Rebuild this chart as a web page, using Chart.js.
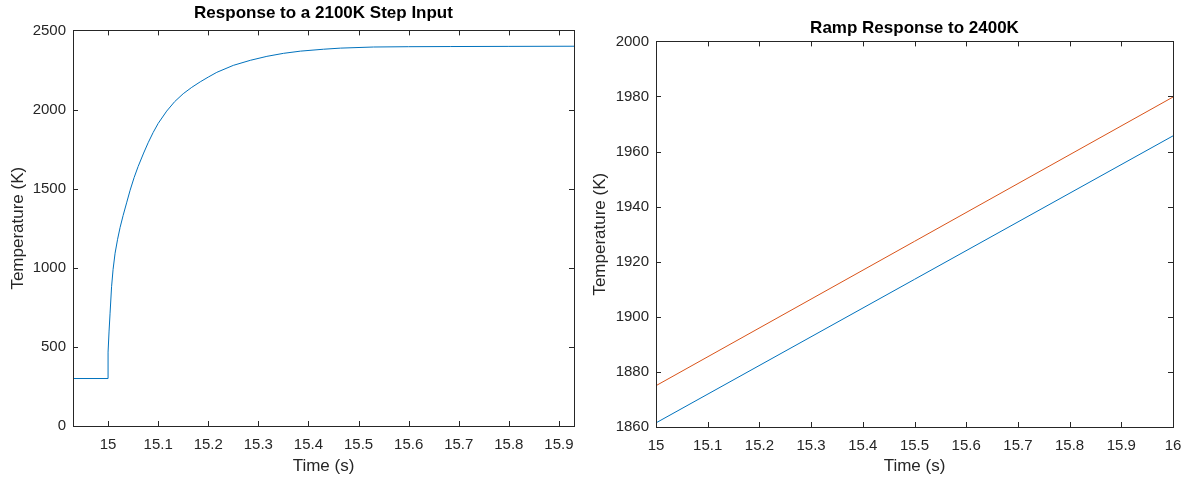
<!DOCTYPE html>
<html>
<head>
<meta charset="utf-8">
<script src="https://cdn.jsdelivr.net/npm/chart.js@4.4.0/dist/chart.umd.min.js"></script>
<style>
  body { margin: 0; background: #fff; }
  #wrap { position: relative; width: 1187px; height: 478px; }
  #leftBox { position: absolute; left: 0; top: 0; width: 590px; height: 478px; }
  #rightBox { position: absolute; left: 590px; top: 0; width: 597px; height: 478px; }
</style>
</head>
<body>
<div id="wrap">
  <div id="leftBox"><canvas id="stepChart" width="590" height="478"></canvas></div>
  <div id="rightBox"><canvas id="rampChart" width="597" height="478"></canvas></div>
</div>
<script>
// step response
var stepTime = [14.93, 15.0, 15.0, 15.002, 15.004, 15.007, 15.01, 15.014, 15.019, 15.024, 15.03, 15.037, 15.044, 15.052, 15.06, 15.071, 15.08, 15.09, 15.1, 15.117, 15.133, 15.15, 15.167, 15.184, 15.2, 15.217, 15.25, 15.284, 15.317, 15.35, 15.384, 15.43, 15.464, 15.53, 15.6, 15.684, 15.8, 15.93];
var stepTemp = [300, 300, 467, 600, 713, 880, 990, 1092, 1180, 1255, 1330, 1410, 1490, 1570, 1640, 1725, 1790, 1855, 1912, 1990, 2050, 2100, 2140, 2175, 2205, 2235, 2279, 2311, 2336, 2355, 2369, 2381, 2388, 2395, 2397, 2398, 2399, 2400];
var stepXTicks = [15, 15.1, 15.2, 15.3, 15.4, 15.5, 15.6, 15.7, 15.8, 15.9];
var stepYTicks = [0, 500, 1000, 1500, 2000, 2500];

// ramp response
var rampTime = [15, 16];
var rampBlue = [1861.5, 1965.7];
var rampOrange = [1875, 1979.8];
var rampXTicks = [15, 15.1, 15.2, 15.3, 15.4, 15.5, 15.6, 15.7, 15.8, 15.9, 16];
var rampYTicks = [1860, 1880, 1900, 1920, 1940, 1960, 1980, 2000];

var FONT = "'Liberation Sans', Arial, Helvetica, sans-serif";
var AXIS_COLOR = '#262626';
var BLUE = '#0072BD';
var ORANGE = '#D95319';

function points(xs, ys) {
  return xs.map(function (x, i) { return { x: x, y: ys[i] }; });
}

function fmt(v) {
  return String(Math.round(v * 10) / 10);
}

// box round the axes plus MATLAB style inward ticks
var frame = {
  id: 'frame',
  afterDraw: function (chart) {
    var ctx = chart.ctx, a = chart.chartArea;
    var x = chart.scales.x, y = chart.scales.y;
    ctx.save();
    ctx.strokeStyle = AXIS_COLOR;
    ctx.lineWidth = 1;
    ctx.strokeRect(Math.round(a.left) + 0.5, Math.round(a.top) + 0.5,
      Math.round(a.right - a.left), Math.round(a.bottom - a.top));
    ctx.beginPath();
    x.ticks.forEach(function (t) {
      var px = Math.round(x.getPixelForValue(t.value)) + 0.5;
      ctx.moveTo(px, a.bottom); ctx.lineTo(px, a.bottom - 5);
      ctx.moveTo(px, a.top); ctx.lineTo(px, a.top + 5);
    });
    y.ticks.forEach(function (t) {
      var py = Math.round(y.getPixelForValue(t.value)) + 0.5;
      ctx.moveTo(a.left, py); ctx.lineTo(a.left + 5, py);
      ctx.moveTo(a.right, py); ctx.lineTo(a.right - 5, py);
    });
    ctx.stroke();
    ctx.restore();
  }
};

function makeChart(id, cfg) {
  return new Chart(document.getElementById(id).getContext('2d'), {
    type: 'line',
    data: { datasets: cfg.datasets },
    options: {
      responsive: false,
      animation: false,
      layout: { padding: { left: 0, right: cfg.padRight, top: 0, bottom: 0 } },
      plugins: {
        legend: { display: false },
        tooltip: { enabled: false },
        title: {
          display: true,
          fullSize: false, // centre the title over the axes, as MATLAB does
          text: cfg.title,
          color: '#000',
          font: { family: FONT, size: 17, weight: 'bold' },
          padding: cfg.titlePad
        }
      },
      elements: { point: { radius: 0 }, line: { borderWidth: 1, tension: 0 } },
      scales: {
        x: {
          type: 'linear',
          min: cfg.xMin, max: cfg.xMax,
          grid: { display: false, drawTicks: false },
          border: { display: false },
          afterBuildTicks: function (s) { s.ticks = cfg.xTicks.map(function (v) { return { value: v }; }); },
          afterFit: function (s) { s.height = cfg.xHeight; s.paddingLeft = 0; s.paddingRight = 0; },
          ticks: {
            padding: 10, color: AXIS_COLOR, maxRotation: 0, autoSkip: false,
            font: { family: FONT, size: 15 },
            callback: function (v) { return fmt(v); }
          },
          title: {
            display: true, text: 'Time (s)', color: AXIS_COLOR,
            font: { family: FONT, size: 17 }, padding: { top: 0, bottom: 1 }
          }
        },
        y: {
          min: cfg.yMin, max: cfg.yMax,
          grid: { display: false, drawTicks: false },
          border: { display: false },
          afterBuildTicks: function (s) { s.ticks = cfg.yTicks.map(function (v) { return { value: v }; }); },
          afterFit: function (s) { s.width = cfg.yWidth; s.paddingTop = 0; s.paddingBottom = 0; },
          ticks: {
            padding: 7, color: AXIS_COLOR, autoSkip: false,
            font: { family: FONT, size: 15 },
            callback: function (v) { return String(v); }
          },
          title: {
            display: true, text: 'Temperature (K)', color: AXIS_COLOR,
            font: { family: FONT, size: 17 }, padding: { top: cfg.yTitlePad, bottom: 0 }
          }
        }
      }
    },
    plugins: [frame]
  });
}

makeChart('stepChart', {
  title: 'Response to a 2100K Step Input',
  titlePad: { top: 3, bottom: 7 },
  padRight: 16,
  xMin: 14.93, xMax: 15.93, xTicks: stepXTicks, xHeight: 52,
  yMin: 0, yMax: 2500, yTicks: stepYTicks, yWidth: 73, yTitlePad: 8,
  datasets: [{
    data: points(stepTime, stepTemp),
    borderColor: BLUE
  }]
});

makeChart('rampChart', {
  title: 'Ramp Response to 2400K',
  titlePad: { top: 18, bottom: 3 },
  padRight: 14,
  xMin: 15, xMax: 16, xTicks: rampXTicks, xHeight: 51,
  yMin: 1860, yMax: 2000, yTicks: rampYTicks, yWidth: 66, yTitlePad: 0,
  datasets: [{
    data: points(rampTime, rampBlue),
    borderColor: BLUE
  }, {
    data: points(rampTime, rampOrange),
    borderColor: ORANGE
  }]
});
</script>
</body>
</html>
